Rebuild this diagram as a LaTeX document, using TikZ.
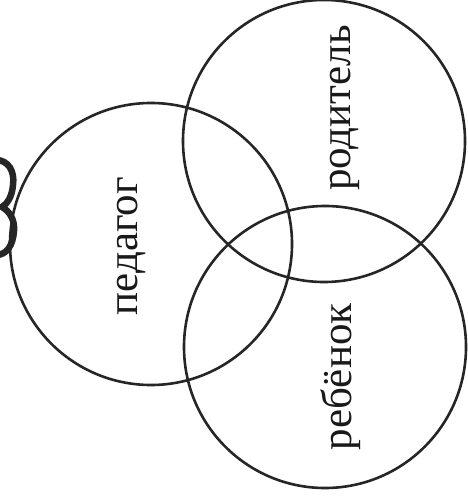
\documentclass[tikz,border=0pt]{standalone}
\usepackage{fontspec}
\setmainfont{Liberation Serif}
\usepackage{tikz}
\usetikzlibrary{positioning}
\tikzset{
  rng/.style={circle,draw=black!85,line width=2.6pt,minimum size=282pt,inner sep=0pt},
  lb/.style={rotate=90,anchor=base,inner sep=0pt,font=\fontsize{43}{43}\selectfont,text=black!90},
  frag/.style={draw=black!85,line width=6.5pt},
}
\begin{document}
\begin{tikzpicture}[x=1pt,y=-1pt]
\useasboundingbox (0,0) rectangle (467,502);
% three rings of the triad
\node[rng] (ped) at (151,244) {};
\node[rng] (rod) at (324,141) {};
\node[rng] (reb) at (325,347) {};
% labels, set sideways
\node[lb] (tped) at (137,246) {педагог};
\node[lb] (trod) at (350,108) {родитель};
\node[lb] (treb) at (351,377) {ребёнок};
% cut-off glyph at the left edge
\begin{scope}
  \clip (0,0) rectangle (467,502);
  \draw[frag] (-4,160) .. controls (8,160) and (15,171) .. (13,185)
    .. controls (12,197) and (7,204) .. (2,207)
    .. controls (9,211) and (15,219) .. (14,231)
    .. controls (13,245) and (7,255) .. (-4,255);
\end{scope}
\end{tikzpicture}
\end{document}
